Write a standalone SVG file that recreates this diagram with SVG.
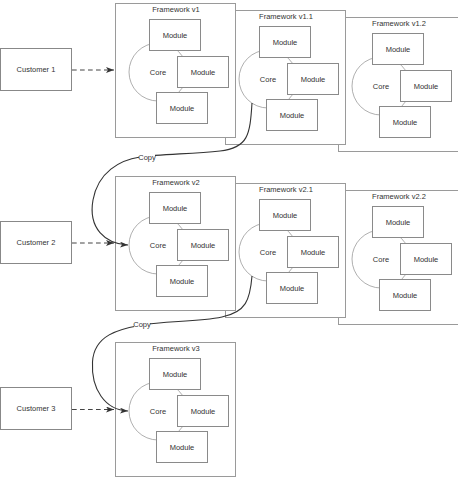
<svg xmlns="http://www.w3.org/2000/svg" width="458" height="492" viewBox="0 0 458 492">
<style>
.frame{fill:#fff;stroke:#9a9a9a;stroke-width:1}
.mod{fill:#fff;stroke:#8a8a8a;stroke-width:1}
.core{fill:none;stroke:#9a9a9a;stroke-width:0.8}
.cust{fill:#fff;stroke:#888;stroke-width:1}
text{font-family:"Liberation Sans",Arial,sans-serif;font-size:7.5px;fill:#333;text-anchor:middle;dominant-baseline:central}
.dash{fill:none;stroke:#444;stroke-width:1;stroke-dasharray:4.7 3.3}
.copy{fill:none;stroke:#333;stroke-width:1.1}
</style>
<defs>
<marker id="arr" markerUnits="userSpaceOnUse" markerWidth="8" markerHeight="6" refX="8" refY="3" orient="auto">
<path d="M0,0 L8,3 L0,6 L2,3 z" fill="#333"/>
</marker>
</defs>

<!-- Row 1 -->
<g id="fw-v1-2" transform="translate(223,14)">
<rect class="frame" x="115.5" y="3.5" width="120" height="134"/>
<text x="176" y="9.5">Framework v1.2</text>
<circle class="core" cx="158" cy="72" r="29"/>
<rect class="mod" x="149.5" y="19.5" width="51" height="31"/><text x="175" y="35">Module</text>
<rect class="mod" x="177.5" y="56.5" width="51" height="31"/><text x="203" y="72">Module</text>
<rect class="mod" x="156.5" y="92.5" width="51" height="31"/><text x="182" y="108">Module</text>
<text x="158" y="72">Core</text>
</g>
<g id="fw-v1-1" transform="translate(110,7)">
<rect class="frame" x="115.5" y="3.5" width="120" height="134"/>
<text x="176" y="9.5">Framework v1.1</text>
<circle class="core" cx="158" cy="72" r="29"/>
<rect class="mod" x="149.5" y="19.5" width="51" height="31"/><text x="175" y="35">Module</text>
<rect class="mod" x="177.5" y="56.5" width="51" height="31"/><text x="203" y="72">Module</text>
<rect class="mod" x="156.5" y="92.5" width="51" height="31"/><text x="182" y="108">Module</text>
<text x="158" y="72">Core</text>
</g>
<g id="fw-v1">
<rect class="frame" x="115.5" y="3.5" width="120" height="134"/>
<text x="176" y="9.5">Framework v1</text>
<circle class="core" cx="158" cy="72" r="29"/>
<rect class="mod" x="149.5" y="19.5" width="51" height="31"/><text x="175" y="35">Module</text>
<rect class="mod" x="177.5" y="56.5" width="51" height="31"/><text x="203" y="72">Module</text>
<rect class="mod" x="156.5" y="92.5" width="51" height="31"/><text x="182" y="108">Module</text>
<text x="158" y="72">Core</text>
</g>
<g id="customer-1">
<rect class="cust" x="0.5" y="48.5" width="71" height="42"/>
<text x="36" y="69.5">Customer 1</text>
</g>

<!-- Row 2 -->
<g id="fw-v2-2" transform="translate(223,187)">
<rect class="frame" x="115.5" y="3.5" width="120" height="134"/>
<text x="176" y="9.5">Framework v2.2</text>
<circle class="core" cx="158" cy="72" r="29"/>
<rect class="mod" x="149.5" y="19.5" width="51" height="31"/><text x="175" y="35">Module</text>
<rect class="mod" x="177.5" y="56.5" width="51" height="31"/><text x="203" y="72">Module</text>
<rect class="mod" x="156.5" y="92.5" width="51" height="31"/><text x="182" y="108">Module</text>
<text x="158" y="72">Core</text>
</g>
<g id="fw-v2-1" transform="translate(110,180)">
<rect class="frame" x="115.5" y="3.5" width="120" height="134"/>
<text x="176" y="9.5">Framework v2.1</text>
<circle class="core" cx="158" cy="72" r="29"/>
<rect class="mod" x="149.5" y="19.5" width="51" height="31"/><text x="175" y="35">Module</text>
<rect class="mod" x="177.5" y="56.5" width="51" height="31"/><text x="203" y="72">Module</text>
<rect class="mod" x="156.5" y="92.5" width="51" height="31"/><text x="182" y="108">Module</text>
<text x="158" y="72">Core</text>
</g>
<g id="fw-v2" transform="translate(0,173)">
<rect class="frame" x="115.5" y="3.5" width="120" height="134"/>
<text x="176" y="9.5">Framework v2</text>
<circle class="core" cx="158" cy="72" r="29"/>
<rect class="mod" x="149.5" y="19.5" width="51" height="31"/><text x="175" y="35">Module</text>
<rect class="mod" x="177.5" y="56.5" width="51" height="31"/><text x="203" y="72">Module</text>
<rect class="mod" x="156.5" y="92.5" width="51" height="31"/><text x="182" y="108">Module</text>
<text x="158" y="72">Core</text>
</g>
<g id="customer-2" transform="translate(0,173)">
<rect class="cust" x="0.5" y="48.5" width="71" height="42"/>
<text x="36" y="69.5">Customer 2</text>
</g>

<!-- Row 3 -->
<g id="fw-v3" transform="translate(0,339)">
<rect class="frame" x="115.5" y="3.5" width="120" height="134"/>
<text x="176" y="9.5">Framework v3</text>
<circle class="core" cx="158" cy="72" r="29"/>
<rect class="mod" x="149.5" y="19.5" width="51" height="31"/><text x="175" y="35">Module</text>
<rect class="mod" x="177.5" y="56.5" width="51" height="31"/><text x="203" y="72">Module</text>
<rect class="mod" x="156.5" y="92.5" width="51" height="31"/><text x="182" y="108">Module</text>
<text x="158" y="72">Core</text>
</g>
<g id="customer-3" transform="translate(0,339)">
<rect class="cust" x="0.5" y="48.5" width="71" height="42"/>
<text x="36" y="69.5">Customer 3</text>
</g>

<!-- Connectors -->
<g id="connectors">
<path class="dash" d="M72,70 L114,70" marker-end="url(#arr)"/>
<path class="dash" d="M72,243 L114,243" marker-end="url(#arr)"/>
<path class="dash" d="M72,409.5 L114,409.5" marker-end="url(#arr)"/>
<path class="copy" d="M252,103 C250,135 248,148 220,151 S160,154 140,157 S98,172 93,200 S105,244 128,245" marker-end="url(#arr)"/>
<path class="copy" d="M252,276 C250,300 246,312 222,317 S165,321 142,325 S94,335 92.5,362 S105,410 128,411" marker-end="url(#arr)"/>
<rect x="139" y="153.5" width="16" height="7" fill="#fff"/>
<text x="147" y="157">Copy</text>
<rect x="134" y="320.5" width="16" height="7" fill="#fff"/>
<text x="142" y="324">Copy</text>
</g>
</svg>
